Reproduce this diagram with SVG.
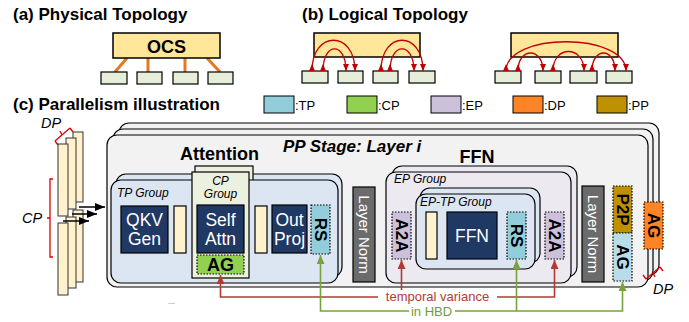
<svg xmlns="http://www.w3.org/2000/svg" width="689" height="322" viewBox="0 0 689 322">
<defs>
<style>
text{font-family:"Liberation Sans",Arial,sans-serif;fill:#000;}
.title{font-size:17px;font-weight:bold;}
.pp{fill:#F2F2F2;stroke:#000;stroke-width:1.2;}
.tpg{fill:#DCE6F2;stroke:#000;stroke-width:1.2;}
.epg{fill:#ECE9F0;stroke:#000;stroke-width:1.2;}
.cpg{fill:#EBF1DE;stroke:#000;stroke-width:1.2;}
.navy{fill:#203864;stroke:#000;stroke-width:1.2;}
.cream{fill:#FFF2CC;stroke:#000;stroke-width:1.2;}
.gray{fill:#6B6B6B;stroke:#000;stroke-width:1.2;}
.dot{stroke:#000;stroke-width:1.2;stroke-dasharray:1.5 1.5;}
.wt{fill:#fff;font-size:17.5px;text-anchor:middle;}
.grp{font-size:12px;font-style:italic;}
.bl{font-size:17px;font-weight:bold;text-anchor:middle;}
.lnt{fill:#fff;font-size:15px;text-anchor:middle;}
.red{stroke:#B23A33;stroke-width:1.6;fill:none;}
.green{stroke:#77A33A;stroke-width:1.6;fill:none;}
.arc{stroke:#C00000;stroke-width:1.3;fill:none;}
.org{stroke:#E87722;stroke-width:3;}
.node{fill:#E6EDD9;stroke:#000;stroke-width:1.2;}
.ocs{fill:#FFE699;stroke:#000;stroke-width:1.5;}
.bar{fill:#FFF2CC;stroke:#333;stroke-width:1;}
.rb{stroke:#E00000;stroke-width:1.3;fill:none;}
.leg{font-size:13px;}
.lk{stroke:#000;stroke-width:1;}
</style>
<marker id="arcS" markerUnits="userSpaceOnUse" markerWidth="8" markerHeight="7" refX="0" refY="3" orient="auto"><path d="M0,0 L7,3 L0,6 z" fill="#C00000"/></marker>
<marker id="arcE" markerUnits="userSpaceOnUse" markerWidth="8" markerHeight="7" refX="7" refY="3" orient="auto"><path d="M0,0 L7,3 L0,6 z" fill="#C00000"/></marker>
<marker id="mRed" markerUnits="userSpaceOnUse" markerWidth="10" markerHeight="9" refX="9" refY="4" orient="auto"><path d="M0,0 L9,4 L0,8 z" fill="#B23A33"/></marker>
<marker id="mGreen" markerUnits="userSpaceOnUse" markerWidth="10" markerHeight="9" refX="9" refY="4" orient="auto"><path d="M0,0 L9,4 L0,8 z" fill="#77A33A"/></marker>
<marker id="mBlack" markerUnits="userSpaceOnUse" markerWidth="11" markerHeight="9" refX="10" refY="4" orient="auto"><path d="M0,0 L10,4 L0,8 z" fill="#000"/></marker>
</defs>

<!-- (a) Physical topology -->
<g id="physical-topology">
<text class="title" x="13" y="20">(a) Physical Topology</text>
<line class="org" x1="127" y1="58" x2="115" y2="72"/>
<line class="org" x1="148" y1="58" x2="148" y2="72"/>
<line class="org" x1="185" y1="58" x2="185" y2="72"/>
<line class="org" x1="207" y1="58" x2="220" y2="72"/>
<rect class="ocs" x="113" y="33" width="107" height="25"/>
<text x="166.5" y="52.5" font-size="18" font-weight="bold" text-anchor="middle">OCS</text>
<rect class="node" x="101" y="72" width="26" height="12"/>
<rect class="node" x="137" y="72" width="25" height="12"/>
<rect class="node" x="173" y="72" width="25" height="12"/>
<rect class="node" x="208" y="72" width="25" height="12"/>
</g>

<!-- (b) Logical topology -->
<g id="logical-topology">
<text class="title" x="302" y="20">(b) Logical Topology</text>
<rect class="ocs" x="314" y="33" width="106" height="24"/>
<rect class="ocs" x="511" y="33" width="107" height="24"/>
<rect class="node" x="302" y="71" width="26" height="12"/>
<rect class="node" x="338" y="71" width="25" height="12"/>
<rect class="node" x="373" y="71" width="25" height="12"/>
<rect class="node" x="409" y="71" width="26" height="12"/>
<rect class="node" x="495" y="71" width="26" height="12"/>
<rect class="node" x="535" y="71" width="26" height="12"/>
<rect class="node" x="570" y="71" width="27" height="12"/>
<rect class="node" x="606" y="71" width="26" height="12"/>
<g marker-start="url(#arcS)" marker-end="url(#arcE)">
<path class="arc" d="M312,71 C312,30 355,30 355,71"/>
<path class="arc" d="M323,71 C323,41.5 346,41.5 346,71"/>
<path class="arc" d="M381,71 C381,30 423,30 423,71"/>
<path class="arc" d="M390,71 C390,41.5 414,41.5 414,71"/>
<path class="arc" d="M506,71 C506,32 626,32 626,71"/>
<path class="arc" d="M518,71 C518,47 543,47 543,71"/>
<path class="arc" d="M553,71 C553,45 584,45 584,71"/>
<path class="arc" d="M592,71 C592,47 615,47 615,71"/>
</g>
</g>

<!-- (c) title + legend -->
<g id="legend">
<text class="title" x="13" y="110">(c) Parallelism illustration</text>
<rect x="264" y="96" width="30" height="17" fill="#92CDDC" class="lk"/>
<text class="leg" x="295" y="110">:TP</text>
<rect x="347" y="96" width="30" height="17" fill="#92D050" class="lk"/>
<text class="leg" x="378" y="110">:CP</text>
<rect x="431" y="96" width="30" height="17" fill="#CCC0DA" class="lk"/>
<text class="leg" x="462" y="110">:EP</text>
<rect x="513" y="96" width="30" height="17" fill="#FF8426" class="lk"/>
<text class="leg" x="544" y="110">:DP</text>
<rect x="597" y="96" width="30" height="17" fill="#BF9000" class="lk"/>
<text class="leg" x="628" y="110">:PP</text>
</g>

<!-- left stack of stages -->
<g id="stage-stack">
<rect class="bar" x="73" y="132" width="10" height="70"/>
<rect class="bar" x="73" y="210" width="10" height="72"/>
<rect class="bar" x="66" y="138" width="10" height="71"/>
<rect class="bar" x="66" y="217" width="10" height="71"/>
<rect class="bar" x="58" y="144" width="10" height="72"/>
<rect class="bar" x="58" y="223" width="10" height="72"/>
<path class="rb" d="M55,141 L70,128 M55,141 L58,145 M70,128 L73,132 M62,135 L60,131"/>
<text x="41" y="128" font-size="14.5" font-style="italic">DP</text>
<path class="rb" d="M53,179 H50 V257 H53 M50,218 H47"/>
<text x="22" y="223" font-size="14.5" font-style="italic">CP</text>
</g>

<!-- PP stage -->
<g id="pp-stage">
<rect class="pp" x="119" y="123" width="540" height="152" rx="10"/>
<rect class="pp" x="113" y="129" width="540" height="152" rx="10"/>
<rect class="pp" x="107" y="135" width="541" height="152" rx="10"/>
<text x="283" y="152" font-size="17" font-weight="bold" font-style="italic">PP Stage: Layer i</text>
<text x="219.5" y="160" font-size="18" font-weight="bold" text-anchor="middle">Attention</text>
<text x="477" y="163" font-size="18" font-weight="bold" text-anchor="middle">FFN</text>
<path class="rb" d="M646,279 L660,267 M646,279 L643,275 M660,267 L663,271 M653,273 L655,277"/>
<text x="653" y="294" font-size="14.5" font-style="italic">DP</text>
</g>

<g id="dp-ag">
<rect x="644" y="202" width="19" height="47" fill="#FF8426" class="dot"/>
<text class="bl" transform="rotate(90 653.5 225.5)" x="653.5" y="225.5" dy="0.35em">AG</text>
</g>

<!-- TP group -->
<g id="tp-group">
<rect class="tpg" x="116" y="174" width="226" height="103" rx="10"/>
<rect class="cpg" x="195" y="166" width="58" height="60"/>
<rect class="tpg" x="111" y="180" width="227" height="103" rx="10"/>
<text class="grp" x="117" y="197">TP Group</text>
</g>

<g id="qkv-gen">
<rect class="navy" x="121" y="206" width="47" height="47"/>
<text class="wt" x="144.5" y="226">QKV</text>
<text class="wt" x="144.5" y="245">Gen</text>
</g>
<g id="buf1"><rect class="cream" x="174" y="206" width="12" height="47"/></g>

<g id="cp-group">
<rect class="cpg" x="192" y="172" width="57" height="106"/>
<text class="grp" x="220.5" y="184.5" text-anchor="middle">CP</text>
<text class="grp" x="220.5" y="198" text-anchor="middle">Group</text>
</g>
<g id="self-attn">
<rect class="navy" x="197" y="205" width="47" height="48"/>
<text class="wt" x="220.5" y="226">Self</text>
<text class="wt" x="220.5" y="245">Attn</text>
</g>
<g id="cp-ag">
<rect x="197" y="255" width="47" height="19" fill="#92D050" class="dot"/>
<text x="220.5" y="271" font-size="18" font-weight="bold" text-anchor="middle">AG</text>
</g>
<g id="buf2"><rect class="cream" x="255" y="206" width="12" height="47"/></g>
<g id="out-proj">
<rect class="navy" x="272" y="205" width="35" height="48"/>
<text class="wt" x="289.5" y="226">Out</text>
<text class="wt" x="289.5" y="245">Proj</text>
</g>
<g id="tp-rs">
<rect x="311" y="205" width="19" height="49" fill="#92CDDC" class="dot"/>
<text class="bl" transform="rotate(90 320.5 229.5)" x="320.5" y="229.5" dy="0.35em">RS</text>
</g>

<g id="layer-norm-1">
<rect class="gray" x="353" y="187" width="22" height="95"/>
<text class="lnt" transform="rotate(90 364 234.5)" x="364" y="234.5" dy="0.35em">Layer Norm</text>
</g>

<!-- EP group -->
<g id="ep-group">
<rect class="epg" x="392" y="166" width="185" height="111" rx="10"/>
<rect class="epg" x="386" y="172" width="185" height="111" rx="10"/>
<text class="grp" x="394" y="183">EP Group</text>
</g>
<g id="a2a-1">
<rect x="392" y="212" width="19" height="47" fill="#CCC0DA" class="dot"/>
<text class="bl" transform="rotate(90 401.5 235.5)" x="401.5" y="235.5" dy="0.35em">A2A</text>
</g>
<g id="ep-tp-group">
<rect class="tpg" x="420" y="188" width="120" height="75" rx="10"/>
<rect class="tpg" x="416" y="194" width="119" height="75" rx="10"/>
<text class="grp" x="420" y="206">EP-TP Group</text>
</g>
<g id="buf3"><rect class="cream" x="426" y="212" width="11" height="47"/></g>
<g id="ffn">
<rect class="navy" x="447" y="212" width="50" height="47"/>
<text class="wt" x="472" y="242">FFN</text>
</g>
<g id="ep-rs">
<rect x="507" y="212" width="19" height="47" fill="#92CDDC" class="dot"/>
<text class="bl" transform="rotate(90 516.5 235.5)" x="516.5" y="235.5" dy="0.35em">RS</text>
</g>
<g id="a2a-2">
<rect x="545" y="212" width="19" height="47" fill="#CCC0DA" class="dot"/>
<text class="bl" transform="rotate(90 554.5 235.5)" x="554.5" y="235.5" dy="0.35em">A2A</text>
</g>

<g id="layer-norm-2">
<rect class="gray" x="582" y="186" width="22" height="96"/>
<text class="lnt" transform="rotate(90 593 234)" x="593" y="234" dy="0.35em">Layer Norm</text>
</g>
<g id="pp-p2p">
<rect x="613" y="186" width="19" height="47" fill="#BF9000" class="dot"/>
<text class="bl" transform="rotate(90 622.5 209.5)" x="622.5" y="209.5" dy="0.35em">P2P</text>
</g>
<g id="pp-ag">
<rect x="613" y="233" width="19" height="48" fill="#B7DEE8" class="dot"/>
<text class="bl" transform="rotate(90 622.5 257)" x="622.5" y="257" dy="0.35em">AG</text>
</g>

<!-- connectors -->
<g id="connectors">
<line x1="79" y1="207" x2="105" y2="207" stroke="#000" stroke-width="1.5" marker-end="url(#mBlack)"/>
<line x1="72" y1="214" x2="97" y2="214" stroke="#000" stroke-width="1.5" marker-end="url(#mBlack)"/>
<line x1="63" y1="221" x2="89" y2="221" stroke="#000" stroke-width="1.5" marker-end="url(#mBlack)"/>
<path class="red" d="M378,297 H220.5 V275" marker-end="url(#mRed)"/>
<path class="red" d="M401.5,290 V260" marker-end="url(#mRed)"/>
<path class="red" d="M497,297 H554.5 V260" marker-end="url(#mRed)"/>
<path class="green" d="M409,311 H320.5 V255" marker-end="url(#mGreen)"/>
<path class="green" d="M455,311 H622.5 V282" marker-end="url(#mGreen)"/>
<path class="green" d="M516.5,311 V260" marker-end="url(#mGreen)"/>
<text x="437.5" y="301" font-size="13" text-anchor="middle" style="fill:#B23A33">temporal variance</text>
<text x="431.5" y="316" font-size="13" text-anchor="middle" style="fill:#6E9E34">in HBD</text>
</g>
<line x1="168" y1="303.5" x2="175" y2="303.5" stroke="#cfcfcf" stroke-width="1"/>
</svg>
